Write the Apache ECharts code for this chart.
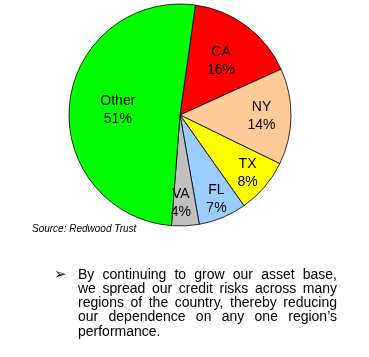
<!DOCTYPE html>
<html><head><meta charset="utf-8">
<script src="https://cdn.jsdelivr.net/npm/echarts@6/dist/echarts.min.js"></script>
<style>html,body{margin:0;padding:0;background:#fff}#c{width:369px;height:357px}</style>
</head><body><div id="c"></div>
<script>
const categories = ['CA', 'NY', 'TX', 'FL', 'VA', 'Other'];
const shares = [16, 14, 8, 7, 4, 51];
const sourceNote = 'Source: Redwood Trust';
const bulletLines = [
  'By continuing to grow our asset base,',
  'we spread our credit risks across many',
  'regions of the country, thereby reducing',
  'our dependence on any one region\u2019s',
  'performance.'
];

const colors = ['#FF0000', '#FFCC99', '#FFFF00', '#99CCFF', '#C0C0C0', '#00FF00'];
const labelOffsets = [[6, -7], [23, 0], [23, 20], [14, 30], [-2, 30], [-4, 1]];

const chart = echarts.init(document.getElementById('c'), null, {renderer: 'canvas'});

const FONT = '"Liberation Sans", Arial, sans-serif';
const bodySize = 14;
const ctx = document.createElement('canvas').getContext('2d');
ctx.font = bodySize + 'px ' + FONT;

const textLeft = 78, textRight = 337, textTop = 275, lineH = 14.2;
const graphics = [];
bulletLines.forEach((line, li) => {
  const y = textTop + li * lineH;
  const words = line.split(' ');
  const last = li === bulletLines.length - 1;
  if (last) {
    graphics.push({type: 'text', x: textLeft, y: y, style: {text: line, font: bodySize + 'px ' + FONT, fill: '#000', verticalAlign: 'middle'}});
    return;
  }
  const widths = words.map(w => ctx.measureText(w).width);
  const total = widths.reduce((a, b) => a + b, 0);
  const gap = (textRight - textLeft - total) / (words.length - 1);
  let x = textLeft;
  words.forEach((w, i) => {
    graphics.push({type: 'text', x: x, y: y, style: {text: w, font: bodySize + 'px ' + FONT, fill: '#000', verticalAlign: 'middle'}});
    x += widths[i] + gap;
  });
});
graphics.push({type: 'text', x: 54, y: textTop, style: {text: '\u27A2', font: '15px "DejaVu Sans", sans-serif', fill: '#000', verticalAlign: 'middle'}});
graphics.push({type: 'text', x: 32, y: 229, style: {text: sourceNote, font: 'italic 10px ' + FONT, fill: '#000', verticalAlign: 'middle'}});

chart.setOption({
  animation: false,
  graphic: graphics,
  series: [{
    type: 'pie',
    center: [180, 115],
    radius: [0, 111],
    startAngle: 82,
    clockwise: true,
    avoidLabelOverlap: false,
    itemStyle: {borderColor: '#000', borderWidth: 0.8},
    emphasis: {disabled: true},
    label: {
      position: 'inside',
      formatter: p => p.name + '\n' + p.value + '%',
      fontFamily: FONT,
      fontSize: 14,
      lineHeight: 18,
      color: '#000',
      align: 'center'
    },
    labelLine: {show: false},
    data: categories.map((n, i) => ({
      name: n, value: shares[i],
      itemStyle: {color: colors[i]},
      label: {offset: labelOffsets[i]}
    }))
  }]
});
</script></body></html>
